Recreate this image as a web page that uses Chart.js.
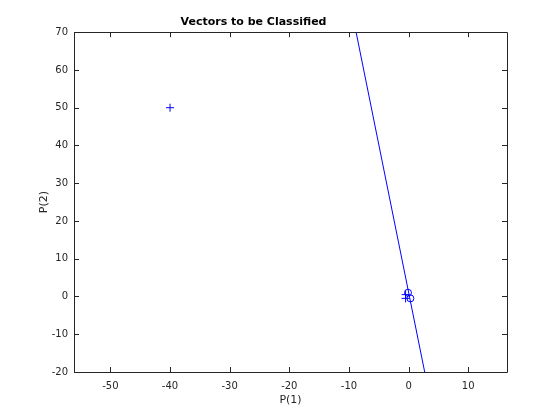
<!DOCTYPE html>
<html>
<head>
<meta charset="utf-8">
<script src="https://cdn.jsdelivr.net/npm/chart.js@4/dist/chart.umd.min.js"></script>
<style>
  html, body { margin: 0; padding: 0; background: #fff; }
</style>
</head>
<body>
<canvas id="chart" width="560" height="420"></canvas>
<script>
// input vectors and their targets (1 = '+', 0 = 'o')
const p1 = [-0.5, -0.5, 0.3, -0.1, -40];
const p2 = [-0.5, 0.5, -0.5, 1.0, 50];
const targets = [1, 1, 0, 0, 1];

// classification line end points
const lineX = [-8.8, 2.7];
const lineY = [70, -20];

const xTicks = [-50, -40, -30, -20, -10, 0, 10];
const yTicks = [-20, -10, 0, 10, 20, 30, 40, 50, 60, 70];

const axisColor = '#262626';

const plusPoints = [];
const circlePoints = [];
p1.forEach(function (x, i) {
  const pt = { x: x, y: p2[i] };
  if (targets[i] === 1) plusPoints.push(pt); else circlePoints.push(pt);
});

// frame + inward ticks on all four sides, like a matlab box
const boxPlugin = {
  id: 'box',
  afterDraw: function (chart) {
    const ctx = chart.ctx;
    const a = chart.chartArea;
    const xs = chart.scales.x;
    const ys = chart.scales.y;
    const len = 5;
    ctx.save();
    ctx.strokeStyle = axisColor;
    ctx.lineWidth = 1;
    ctx.beginPath();
    ctx.rect(Math.round(a.left) + 0.5, Math.round(a.top) + 0.5,
             Math.round(a.right - a.left), Math.round(a.bottom - a.top));
    xTicks.forEach(function (v) {
      const px = Math.round(xs.getPixelForValue(v)) + 0.5;
      ctx.moveTo(px, a.bottom); ctx.lineTo(px, a.bottom - len);
      ctx.moveTo(px, a.top); ctx.lineTo(px, a.top + len);
    });
    yTicks.forEach(function (v) {
      const py = Math.round(ys.getPixelForValue(v)) + 0.5;
      ctx.moveTo(a.left, py); ctx.lineTo(a.left + len, py);
      ctx.moveTo(a.right, py); ctx.lineTo(a.right - len, py);
    });
    ctx.stroke();
    ctx.restore();
  }
};

Chart.defaults.font.family = '"DejaVu Sans", sans-serif';
Chart.defaults.color = axisColor;

new Chart(document.getElementById('chart').getContext('2d'), {
  type: 'scatter',
  data: {
    datasets: [
      {
        type: 'line',
        data: [{ x: lineX[0], y: lineY[0] }, { x: lineX[1], y: lineY[1] }],
        borderColor: '#0000ff',
        borderWidth: 1,
        pointRadius: 0,
        fill: false
      },
      {
        data: plusPoints,
        pointStyle: 'cross',
        pointRadius: 4,
        borderColor: '#0000ff',
        borderWidth: 1
      },
      {
        data: circlePoints,
        pointStyle: 'circle',
        pointRadius: 3.5,
        backgroundColor: 'rgba(0,0,0,0)',
        borderColor: '#0000ff',
        borderWidth: 1
      }
    ]
  },
  options: {
    responsive: false,
    animation: false,
    layout: { padding: { left: 0, right: 53, top: 0, bottom: 0 } },
    plugins: {
      legend: { display: false },
      tooltip: { enabled: false },
      title: {
        display: true,
        text: 'Vectors to be Classified',
        color: '#000',
        font: { size: 11, weight: 'bold' },
        padding: { top: 16, bottom: 3 }
      }
    },
    scales: {
      x: {
        type: 'linear',
        min: -56.1,
        max: 16.5,
        afterBuildTicks: function (s) { s.ticks = xTicks.map(function (v) { return { value: v }; }); },
        ticks: { font: { size: 10 }, padding: 8, maxRotation: 0 },
        grid: { display: false, drawTicks: false },
        border: { display: false },
        title: { display: true, text: 'P(1)', font: { size: 11 }, padding: { top: 0, bottom: 13 } },
        afterFit: function (s) { s.height = 48; }
      },
      y: {
        type: 'linear',
        min: -20,
        max: 70,
        afterBuildTicks: function (s) { s.ticks = yTicks.map(function (v) { return { value: v }; }); },
        ticks: { font: { size: 10 }, padding: 6 },
        grid: { display: false, drawTicks: false },
        border: { display: false },
        title: { display: true, text: 'P(2)', font: { size: 11 }, padding: { top: 38, bottom: 0 } },
        afterFit: function (s) { s.width = 74; }
      }
    }
  },
  plugins: [boxPlugin]
});
</script>
</body>
</html>
